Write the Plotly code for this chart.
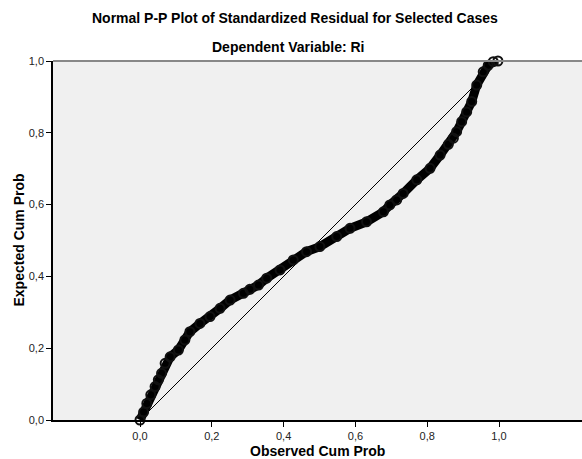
import plotly.graph_objects as go

# Observed vs expected cumulative probabilities
observed_cum_prob = [0.000, 0.010, 0.019, 0.030, 0.042, 0.051, 0.060, 0.070, 0.084, 0.107,
                     0.125, 0.139, 0.167, 0.195, 0.223, 0.251, 0.288, 0.306, 0.330, 0.353,
                     0.390, 0.427, 0.464, 0.501, 0.548, 0.585, 0.631, 0.678, 0.696, 0.715,
                     0.733, 0.771, 0.808, 0.836, 0.859, 0.873, 0.882, 0.896, 0.910, 0.924,
                     0.938, 0.956, 0.970, 0.984, 0.997]
expected_cum_prob = [0.000, 0.022, 0.046, 0.070, 0.093, 0.112, 0.130, 0.158, 0.176, 0.195,
                     0.223, 0.246, 0.269, 0.288, 0.311, 0.334, 0.353, 0.364, 0.376, 0.395,
                     0.418, 0.446, 0.469, 0.483, 0.511, 0.534, 0.552, 0.580, 0.599, 0.613,
                     0.631, 0.669, 0.701, 0.738, 0.768, 0.785, 0.803, 0.831, 0.858, 0.887,
                     0.933, 0.970, 0.988, 0.998, 1.000]

diag_x = [0.0, 1.0]
diag_y = [0.0, 1.0]

tick_vals = [0.0, 0.2, 0.4, 0.6, 0.8, 1.0]

FONT = "Liberation Sans, Arial, sans-serif"

fig = go.Figure()

fig.add_trace(go.Scatter(
    x=diag_x, y=diag_y, mode="lines",
    line=dict(color="black", width=1),
    hoverinfo="skip", showlegend=False,
))

fig.add_trace(go.Scatter(
    x=observed_cum_prob, y=expected_cum_prob, mode="lines+markers",
    line=dict(color="black", width=9),
    marker=dict(symbol="circle-open", size=9, color="#111111", line=dict(width=2, color="#111111")),
    cliponaxis=False,
    showlegend=False,
))

x_left = -87 / 359
x_right = (582 - 140) / 359

fig.update_layout(
    width=582, height=459,
    margin=dict(l=53, r=0, t=61, b=39),
    paper_bgcolor="white",
    plot_bgcolor="#F0F0F0",
    separators=", ",
    font=dict(family=FONT, color="#222222"),
    showlegend=False,
    xaxis=dict(
        range=[x_left, x_right], tickvals=tick_vals, tickformat=".1f",
        ticks="outside", ticklen=5, tickcolor="black", tickwidth=1,
        showline=True, linecolor="black", linewidth=1.5,
        showgrid=False, zeroline=False,
        tickfont=dict(size=11, family=FONT, color="#222222"),
        fixedrange=True,
    ),
    yaxis=dict(
        range=[0, 1], tickvals=tick_vals, tickformat=".1f",
        ticks="outside", ticklen=5, tickcolor="black", tickwidth=1,
        showline=True, linecolor="black", linewidth=1.5,
        showgrid=False, zeroline=False,
        tickfont=dict(size=11, family=FONT, color="#222222"),
        fixedrange=True,
    ),
    shapes=[dict(type="line", xref="x domain", yref="y domain",
                 x0=0, x1=1, y0=1, y1=1, line=dict(color="#888888", width=2))],
    annotations=[
        dict(text="<b>Normal P-P Plot of Standardized Residual for Selected Cases</b>",
             xref="paper", yref="paper", x=(295 - 53) / 529, y=(420 - 18) / 359,
             xanchor="center", yanchor="middle", showarrow=False,
             font=dict(size=14, family=FONT, color="black")),
        dict(text="<b>Dependent Variable: Ri</b>",
             xref="paper", yref="paper", x=(288 - 53) / 529, y=(420 - 47) / 359,
             xanchor="center", yanchor="middle", showarrow=False,
             font=dict(size=14, family=FONT, color="black")),
        dict(text="<b>Observed Cum Prob</b>",
             xref="paper", yref="paper", x=0.5, y=(420 - 451) / 359,
             xanchor="center", yanchor="middle", showarrow=False,
             font=dict(size=14, family=FONT, color="black")),
        dict(text="<b>Expected Cum Prob</b>",
             xref="paper", yref="paper", x=(18 - 53) / 529, y=0.5,
             xanchor="center", yanchor="middle", showarrow=False, textangle=-90,
             font=dict(size=14, family=FONT, color="black")),
    ],
)

fig.write_html(
    "out.html",
    config={"displayModeBar": False},
    post_script=("document.body.style.margin='0';document.body.style.padding='0';"
                 "document.body.style.overflow='hidden';"),
)
